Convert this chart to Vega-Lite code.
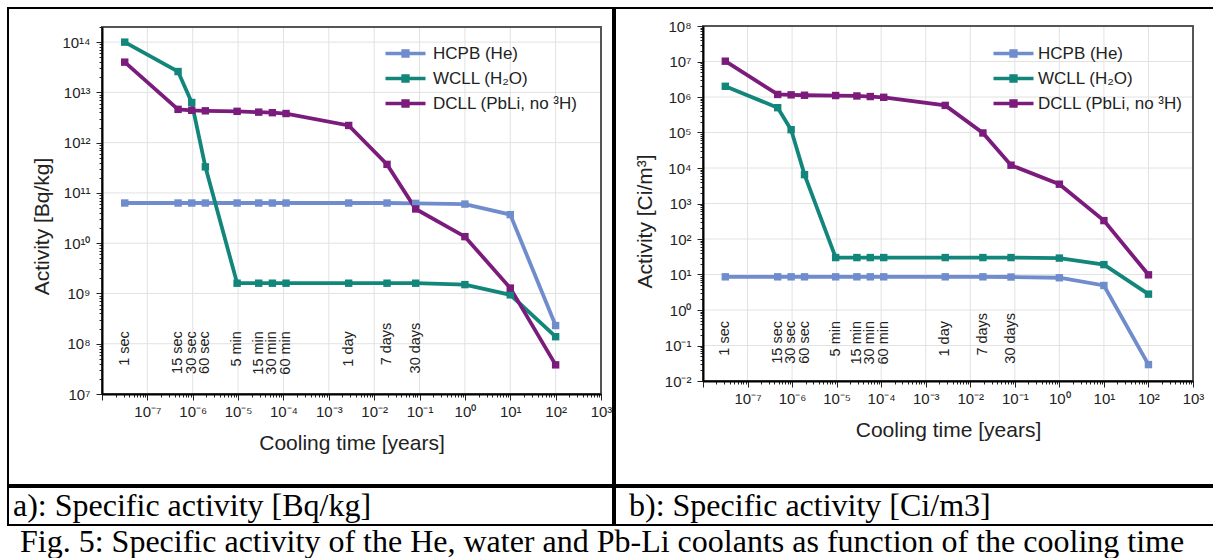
{
  "$schema": "https://vega.github.io/schema/vega-lite/v6.json",
  "background": "white",
  "padding": {"left": 7, "top": 7, "right": 0, "bottom": 0},
  "config": {
    "font": "Liberation Sans",
    "view": {"stroke": "black", "strokeWidth": 2},
    "concat": {"spacing": 0}
  },
  "title": {
    "text": "Fig. 5: Specific activity of the He, water and Pb-Li coolants as function of the cooling time",
    "orient": "bottom", "anchor": "start", "frame": "bounds",
    "font": "Liberation Serif", "fontSize": 32, "fontWeight": "normal", "color": "black",
    "offset": 1, "dx": 13
  },
  "datasets": {
    "a": [
      {"s": "HCPB (He)", "t": 3.17e-8, "v": 6.3e10},
      {"s": "HCPB (He)", "t": 4.75e-7, "v": 6.3e10},
      {"s": "HCPB (He)", "t": 9.51e-7, "v": 6.3e10},
      {"s": "HCPB (He)", "t": 1.9e-6, "v": 6.3e10},
      {"s": "HCPB (He)", "t": 9.51e-6, "v": 6.3e10},
      {"s": "HCPB (He)", "t": 2.85e-5, "v": 6.3e10},
      {"s": "HCPB (He)", "t": 5.7e-5, "v": 6.3e10},
      {"s": "HCPB (He)", "t": 1.14e-4, "v": 6.3e10},
      {"s": "HCPB (He)", "t": 2.74e-3, "v": 6.3e10},
      {"s": "HCPB (He)", "t": 1.92e-2, "v": 6.3e10},
      {"s": "HCPB (He)", "t": 8.22e-2, "v": 6.2e10},
      {"s": "HCPB (He)", "t": 1, "v": 6.0e10},
      {"s": "HCPB (He)", "t": 10, "v": 3.7e10},
      {"s": "HCPB (He)", "t": 100, "v": 2.3e8},
      {"s": "WCLL (H₂O)", "t": 3.17e-8, "v": 1.0e14},
      {"s": "WCLL (H₂O)", "t": 4.75e-7, "v": 2.6e13},
      {"s": "WCLL (H₂O)", "t": 9.51e-7, "v": 6.3e12},
      {"s": "WCLL (H₂O)", "t": 1.9e-6, "v": 3.3e11},
      {"s": "WCLL (H₂O)", "t": 9.51e-6, "v": 1.6e9},
      {"s": "WCLL (H₂O)", "t": 2.85e-5, "v": 1.6e9},
      {"s": "WCLL (H₂O)", "t": 5.7e-5, "v": 1.6e9},
      {"s": "WCLL (H₂O)", "t": 1.14e-4, "v": 1.6e9},
      {"s": "WCLL (H₂O)", "t": 2.74e-3, "v": 1.6e9},
      {"s": "WCLL (H₂O)", "t": 1.92e-2, "v": 1.6e9},
      {"s": "WCLL (H₂O)", "t": 8.22e-2, "v": 1.6e9},
      {"s": "WCLL (H₂O)", "t": 1, "v": 1.5e9},
      {"s": "WCLL (H₂O)", "t": 10, "v": 9.4e8},
      {"s": "WCLL (H₂O)", "t": 100, "v": 1.38e8},
      {"s": "DCLL (PbLi, no ³H)", "t": 3.17e-8, "v": 4.0e13},
      {"s": "DCLL (PbLi, no ³H)", "t": 4.75e-7, "v": 4.6e12},
      {"s": "DCLL (PbLi, no ³H)", "t": 9.51e-7, "v": 4.4e12},
      {"s": "DCLL (PbLi, no ³H)", "t": 1.9e-6, "v": 4.3e12},
      {"s": "DCLL (PbLi, no ³H)", "t": 9.51e-6, "v": 4.2e12},
      {"s": "DCLL (PbLi, no ³H)", "t": 2.85e-5, "v": 4.05e12},
      {"s": "DCLL (PbLi, no ³H)", "t": 5.7e-5, "v": 3.95e12},
      {"s": "DCLL (PbLi, no ³H)", "t": 1.14e-4, "v": 3.8e12},
      {"s": "DCLL (PbLi, no ³H)", "t": 2.74e-3, "v": 2.2e12},
      {"s": "DCLL (PbLi, no ³H)", "t": 1.92e-2, "v": 3.7e11},
      {"s": "DCLL (PbLi, no ³H)", "t": 8.22e-2, "v": 4.8e10},
      {"s": "DCLL (PbLi, no ³H)", "t": 1, "v": 1.35e10},
      {"s": "DCLL (PbLi, no ³H)", "t": 10, "v": 1.28e9},
      {"s": "DCLL (PbLi, no ³H)", "t": 100, "v": 3.8e7}
    ],
    "b": [
      {"s": "HCPB (He)", "t": 3.17e-8, "v": 8.6},
      {"s": "HCPB (He)", "t": 4.75e-7, "v": 8.6},
      {"s": "HCPB (He)", "t": 9.51e-7, "v": 8.6},
      {"s": "HCPB (He)", "t": 1.9e-6, "v": 8.6},
      {"s": "HCPB (He)", "t": 9.51e-6, "v": 8.6},
      {"s": "HCPB (He)", "t": 2.85e-5, "v": 8.6},
      {"s": "HCPB (He)", "t": 5.7e-5, "v": 8.6},
      {"s": "HCPB (He)", "t": 1.14e-4, "v": 8.6},
      {"s": "HCPB (He)", "t": 2.74e-3, "v": 8.6},
      {"s": "HCPB (He)", "t": 1.92e-2, "v": 8.6},
      {"s": "HCPB (He)", "t": 8.22e-2, "v": 8.5},
      {"s": "HCPB (He)", "t": 1, "v": 8.1},
      {"s": "HCPB (He)", "t": 10, "v": 4.9},
      {"s": "HCPB (He)", "t": 100, "v": 0.029},
      {"s": "WCLL (H₂O)", "t": 3.17e-8, "v": 2.0e6},
      {"s": "WCLL (H₂O)", "t": 4.75e-7, "v": 5.0e5},
      {"s": "WCLL (H₂O)", "t": 9.51e-7, "v": 1.2e5},
      {"s": "WCLL (H₂O)", "t": 1.9e-6, "v": 6.5e3},
      {"s": "WCLL (H₂O)", "t": 9.51e-6, "v": 30},
      {"s": "WCLL (H₂O)", "t": 2.85e-5, "v": 30},
      {"s": "WCLL (H₂O)", "t": 5.7e-5, "v": 30},
      {"s": "WCLL (H₂O)", "t": 1.14e-4, "v": 30},
      {"s": "WCLL (H₂O)", "t": 2.74e-3, "v": 30},
      {"s": "WCLL (H₂O)", "t": 1.92e-2, "v": 30},
      {"s": "WCLL (H₂O)", "t": 8.22e-2, "v": 30},
      {"s": "WCLL (H₂O)", "t": 1, "v": 29},
      {"s": "WCLL (H₂O)", "t": 10, "v": 19},
      {"s": "WCLL (H₂O)", "t": 100, "v": 2.8},
      {"s": "DCLL (PbLi, no ³H)", "t": 3.17e-8, "v": 1.02e7},
      {"s": "DCLL (PbLi, no ³H)", "t": 4.75e-7, "v": 1.18e6},
      {"s": "DCLL (PbLi, no ³H)", "t": 9.51e-7, "v": 1.15e6},
      {"s": "DCLL (PbLi, no ³H)", "t": 1.9e-6, "v": 1.12e6},
      {"s": "DCLL (PbLi, no ³H)", "t": 9.51e-6, "v": 1.1e6},
      {"s": "DCLL (PbLi, no ³H)", "t": 2.85e-5, "v": 1.07e6},
      {"s": "DCLL (PbLi, no ³H)", "t": 5.7e-5, "v": 1.03e6},
      {"s": "DCLL (PbLi, no ³H)", "t": 1.14e-4, "v": 9.8e5},
      {"s": "DCLL (PbLi, no ³H)", "t": 2.74e-3, "v": 5.8e5},
      {"s": "DCLL (PbLi, no ³H)", "t": 1.92e-2, "v": 9.7e4},
      {"s": "DCLL (PbLi, no ³H)", "t": 8.22e-2, "v": 1.2e4},
      {"s": "DCLL (PbLi, no ³H)", "t": 1, "v": 3.5e3},
      {"s": "DCLL (PbLi, no ³H)", "t": 10, "v": 3.3e2},
      {"s": "DCLL (PbLi, no ³H)", "t": 100, "v": 9.8}
    ],
    "tl": [
      {"t": 3.17e-8, "label": "1 sec"},
      {"t": 4.75e-7, "label": "15 sec"},
      {"t": 9.51e-7, "label": "30 sec"},
      {"t": 1.9e-6, "label": "60 sec"},
      {"t": 9.51e-6, "label": "5 min"},
      {"t": 2.85e-5, "label": "15 min"},
      {"t": 5.7e-5, "label": "30 min"},
      {"t": 1.14e-4, "label": "60 min"},
      {"t": 2.74e-3, "label": "1 day"},
      {"t": 1.92e-2, "label": "7 days"},
      {"t": 8.22e-2, "label": "30 days"}
    ],
    "gx": [
      {"g": 1e-7}, {"g": 1e-6}, {"g": 1e-5}, {"g": 1e-4}, {"g": 1e-3},
      {"g": 1e-2}, {"g": 1e-1}, {"g": 1}, {"g": 10}, {"g": 100}
    ],
    "gya": [
      {"g": 1e8}, {"g": 1e9}, {"g": 1e10}, {"g": 1e11}, {"g": 1e12}, {"g": 1e13}, {"g": 1e14}
    ],
    "gyb": [
      {"g": 0.1}, {"g": 1}, {"g": 10}, {"g": 100}, {"g": 1000}, {"g": 1e4}, {"g": 1e5}, {"g": 1e6}, {"g": 1e7}
    ],
    "capa": [{"c": "a): Specific activity [Bq/kg]"}],
    "capb": [{"c": "b): Specific activity [Ci/m3]"}],
    "one": [{"k": 1}]
  },
  "vconcat": [
    {
      "hconcat": [
        {
          "width": 605,
          "height": 477,
          "layer": [
            {
              "data": {"name": "gx"},
              "mark": {"type": "rule", "color": "#e2e2e2", "strokeWidth": 1},
              "encoding": {
                "x": {"field": "g", "type": "quantitative", "scale": {"type": "log", "domain": [1e-8, 1000], "range": [94, 593], "nice": false}},
                "y": {"datum": 1e7, "type": "quantitative", "scale": {"type": "log", "domain": [1e7, 2e14], "range": [386, 19], "nice": false}},
                "y2": {"datum": 2e14}
              }
            },
            {
              "data": {"name": "gya"},
              "mark": {"type": "rule", "color": "#e2e2e2", "strokeWidth": 1},
              "encoding": {
                "y": {"field": "g", "type": "quantitative", "scale": {"type": "log", "domain": [1e7, 2e14], "range": [386, 19], "nice": false}},
                "x": {"datum": 1e-8, "type": "quantitative", "scale": {"type": "log", "domain": [1e-8, 1000], "range": [94, 593], "nice": false}},
                "x2": {"datum": 1000}
              }
            },
            {
              "data": {"name": "one"},
              "mark": {"type": "rect", "fill": "white", "fillOpacity": 0, "stroke": "#555555", "strokeWidth": 2},
              "encoding": {
                "x": {"datum": 1e-8, "type": "quantitative", "scale": {"type": "log", "domain": [1e-8, 1000], "range": [94, 593], "nice": false}},
                "x2": {"datum": 1000},
                "y": {"datum": 1e7, "type": "quantitative", "scale": {"type": "log", "domain": [1e7, 2e14], "range": [386, 19], "nice": false}},
                "y2": {"datum": 2e14}
              }
            },
            {
              "data": {"name": "a"},
              "mark": {"type": "line", "strokeWidth": 3.8},
              "encoding": {
                "x": {
                  "field": "t", "type": "quantitative",
                  "scale": {"type": "log", "domain": [1e-8, 1000], "range": [94, 593], "nice": false},
                  "axis": {
                    "orient": "bottom", "offset": -91, "zindex": 2, "grid": false,
                    "values": [1e-8,2e-8,3e-8,4e-8,5e-8,6e-8,7e-8,8e-8,9e-8,1e-7,2e-7,3e-7,4e-7,5e-7,6e-7,7e-7,8e-7,9e-7,1e-6,2e-6,3e-6,4e-6,5e-6,6e-6,7e-6,8e-6,9e-6,1e-5,2e-5,3e-5,4e-5,5e-5,6e-5,7e-5,8e-5,9e-5,1e-4,2e-4,3e-4,4e-4,5e-4,6e-4,7e-4,8e-4,9e-4,1e-3,2e-3,3e-3,4e-3,5e-3,6e-3,7e-3,8e-3,9e-3,1e-2,2e-2,3e-2,4e-2,5e-2,6e-2,7e-2,8e-2,9e-2,0.1,0.2,0.3,0.4,0.5,0.6,0.7,0.8,0.9,1,2,3,4,5,6,7,8,9,10,20,30,40,50,60,70,80,90,100,200,300,400,500,600,700,800,900,1000],
                    "labelExpr": "(abs(log(datum.value)/LN10 - round(log(datum.value)/LN10)) > 0.001 || datum.value < 1.5e-8) ? '' : '10' + (datum.value < 1 ? '⁻' : '') + (abs(round(log(datum.value)/LN10)) >= 10 ? '¹' : '') + substring('⁰¹²³⁴⁵⁶⁷⁸⁹', abs(round(log(datum.value)/LN10)) % 10, abs(round(log(datum.value)/LN10)) % 10 + 1)",
                    "tickSize": {"condition": {"test": "abs(log(datum.value)/LN10 - round(log(datum.value)/LN10)) < 0.001", "value": 6}, "value": 3},
                    "tickColor": "#222222", "tickWidth": 1,
                    "domainColor": "black", "domainWidth": 2,
                    "labelFontSize": 15, "labelColor": "#222222", "labelPadding": 4,
                    "labelFlush": false, "labelOverlap": false, "labelBound": false,
                    "title": "Cooling time [years]", "titleFontSize": 21, "titleFontWeight": "normal", "titleColor": "#222222", "titlePadding": 13
                  }
                },
                "y": {
                  "field": "v", "type": "quantitative",
                  "scale": {"type": "log", "domain": [1e7, 2e14], "range": [386, 19], "nice": false},
                  "axis": {
                    "orient": "left", "offset": -94, "zindex": 2, "grid": false,
                    "values": [1e7,2e7,3e7,4e7,5e7,6e7,7e7,8e7,9e7,1e8,2e8,3e8,4e8,5e8,6e8,7e8,8e8,9e8,1e9,2e9,3e9,4e9,5e9,6e9,7e9,8e9,9e9,1e10,2e10,3e10,4e10,5e10,6e10,7e10,8e10,9e10,1e11,2e11,3e11,4e11,5e11,6e11,7e11,8e11,9e11,1e12,2e12,3e12,4e12,5e12,6e12,7e12,8e12,9e12,1e13,2e13,3e13,4e13,5e13,6e13,7e13,8e13,9e13,1e14,2e14],
                    "labelExpr": "abs(log(datum.value)/LN10 - round(log(datum.value)/LN10)) > 0.001 ? '' : '10' + (datum.value < 1 ? '⁻' : '') + (abs(round(log(datum.value)/LN10)) >= 10 ? '¹' : '') + substring('⁰¹²³⁴⁵⁶⁷⁸⁹', abs(round(log(datum.value)/LN10)) % 10, abs(round(log(datum.value)/LN10)) % 10 + 1)",
                    "tickSize": {"condition": {"test": "abs(log(datum.value)/LN10 - round(log(datum.value)/LN10)) < 0.001", "value": 6}, "value": 3},
                    "tickColor": "#222222", "tickWidth": 1,
                    "domainColor": "black", "domainWidth": 2,
                    "labelFontSize": 15, "labelColor": "#222222", "labelPadding": 6,
                    "labelFlush": false, "labelOverlap": false, "labelBound": false,
                    "title": "Activity [Bq/kg]", "titleFontSize": 21, "titleFontWeight": "normal", "titleColor": "#222222", "titlePadding": 9, "titleY": 218
                  }
                },
                "color": {
                  "field": "s", "type": "nominal",
                  "scale": {"domain": ["HCPB (He)", "WCLL (H₂O)", "DCLL (PbLi, no ³H)"], "range": ["#6f8dcc", "#12867b", "#7b1c7c"]},
                  "legend": {
                    "orient": "none", "legendX": 389, "legendY": 37, "title": null, "padding": 0,
                    "labelFontSize": 17, "labelColor": "#222222", "labelOffset": 19,
                    "symbolType": "M-5,0H5M-0.6,-0.6H0.6V0.6H-0.6Z", "symbolSize": 64, "symbolStrokeWidth": 3.5,
                    "rowPadding": 6
                  }
                }
              }
            },
            {
              "data": {"name": "a"},
              "mark": {"type": "point", "shape": "square", "filled": true, "size": 55, "opacity": 1},
              "encoding": {
                "x": {"field": "t", "type": "quantitative", "scale": {"type": "log", "domain": [1e-8, 1000], "range": [94, 593], "nice": false}},
                "y": {"field": "v", "type": "quantitative", "scale": {"type": "log", "domain": [1e7, 2e14], "range": [386, 19], "nice": false}},
                "color": {"field": "s", "type": "nominal", "scale": {"domain": ["HCPB (He)", "WCLL (H₂O)", "DCLL (PbLi, no ³H)"], "range": ["#6f8dcc", "#12867b", "#7b1c7c"]}, "legend": null}
              }
            },
            {
              "data": {"name": "tl"},
              "transform": [{"filter": "indexof(datum.label, 'days') < 0"}],
              "mark": {"type": "text", "angle": 270, "align": "right", "baseline": "middle", "fontSize": 14.5, "color": "#222222"},
              "encoding": {
                "x": {"field": "t", "type": "quantitative", "scale": {"type": "log", "domain": [1e-8, 1000], "range": [94, 593], "nice": false}},
                "y": {"datum": 1.78e8, "type": "quantitative", "scale": {"type": "log", "domain": [1e7, 2e14], "range": [386, 19], "nice": false}},
                "text": {"field": "label"}
              }
            },
            {
              "data": {"name": "tl"},
              "transform": [{"filter": "indexof(datum.label, 'days') >= 0"}],
              "mark": {"type": "text", "angle": 270, "align": "right", "baseline": "middle", "fontSize": 14.5, "color": "#222222"},
              "encoding": {
                "x": {"field": "t", "type": "quantitative", "scale": {"type": "log", "domain": [1e-8, 1000], "range": [94, 593], "nice": false}},
                "y": {"datum": 2.63e8, "type": "quantitative", "scale": {"type": "log", "domain": [1e7, 2e14], "range": [386, 19], "nice": false}},
                "text": {"field": "label"}
              }
            }
          ]
        },
        {
          "width": 602,
          "height": 477,
          "layer": [
            {
              "data": {"name": "gx"},
              "mark": {"type": "rule", "color": "#e2e2e2", "strokeWidth": 1},
              "encoding": {
                "x": {"field": "g", "type": "quantitative", "scale": {"type": "log", "domain": [1e-8, 1000], "range": [88, 578], "nice": false}},
                "y": {"datum": 0.01, "type": "quantitative", "scale": {"type": "log", "domain": [0.01, 1e8], "range": [373, 18], "nice": false}},
                "y2": {"datum": 1e8}
              }
            },
            {
              "data": {"name": "gyb"},
              "mark": {"type": "rule", "color": "#e2e2e2", "strokeWidth": 1},
              "encoding": {
                "y": {"field": "g", "type": "quantitative", "scale": {"type": "log", "domain": [0.01, 1e8], "range": [373, 18], "nice": false}},
                "x": {"datum": 1e-8, "type": "quantitative", "scale": {"type": "log", "domain": [1e-8, 1000], "range": [88, 578], "nice": false}},
                "x2": {"datum": 1000}
              }
            },
            {
              "data": {"name": "one"},
              "mark": {"type": "rect", "fill": "white", "fillOpacity": 0, "stroke": "#555555", "strokeWidth": 2},
              "encoding": {
                "x": {"datum": 1e-8, "type": "quantitative", "scale": {"type": "log", "domain": [1e-8, 1000], "range": [88, 578], "nice": false}},
                "x2": {"datum": 1000},
                "y": {"datum": 0.01, "type": "quantitative", "scale": {"type": "log", "domain": [0.01, 1e8], "range": [373, 18], "nice": false}},
                "y2": {"datum": 1e8}
              }
            },
            {
              "data": {"name": "b"},
              "mark": {"type": "line", "strokeWidth": 3.8},
              "encoding": {
                "x": {
                  "field": "t", "type": "quantitative",
                  "scale": {"type": "log", "domain": [1e-8, 1000], "range": [88, 578], "nice": false},
                  "axis": {
                    "orient": "bottom", "offset": -104, "zindex": 2, "grid": false,
                    "values": [1e-8,2e-8,3e-8,4e-8,5e-8,6e-8,7e-8,8e-8,9e-8,1e-7,2e-7,3e-7,4e-7,5e-7,6e-7,7e-7,8e-7,9e-7,1e-6,2e-6,3e-6,4e-6,5e-6,6e-6,7e-6,8e-6,9e-6,1e-5,2e-5,3e-5,4e-5,5e-5,6e-5,7e-5,8e-5,9e-5,1e-4,2e-4,3e-4,4e-4,5e-4,6e-4,7e-4,8e-4,9e-4,1e-3,2e-3,3e-3,4e-3,5e-3,6e-3,7e-3,8e-3,9e-3,1e-2,2e-2,3e-2,4e-2,5e-2,6e-2,7e-2,8e-2,9e-2,0.1,0.2,0.3,0.4,0.5,0.6,0.7,0.8,0.9,1,2,3,4,5,6,7,8,9,10,20,30,40,50,60,70,80,90,100,200,300,400,500,600,700,800,900,1000],
                    "labelExpr": "(abs(log(datum.value)/LN10 - round(log(datum.value)/LN10)) > 0.001 || datum.value < 1.5e-8) ? '' : '10' + (datum.value < 1 ? '⁻' : '') + (abs(round(log(datum.value)/LN10)) >= 10 ? '¹' : '') + substring('⁰¹²³⁴⁵⁶⁷⁸⁹', abs(round(log(datum.value)/LN10)) % 10, abs(round(log(datum.value)/LN10)) % 10 + 1)",
                    "tickSize": {"condition": {"test": "abs(log(datum.value)/LN10 - round(log(datum.value)/LN10)) < 0.001", "value": 6}, "value": 3},
                    "tickColor": "#222222", "tickWidth": 1,
                    "domainColor": "black", "domainWidth": 2,
                    "labelFontSize": 15, "labelColor": "#222222", "labelPadding": 4,
                    "labelFlush": false, "labelOverlap": false, "labelBound": false,
                    "title": "Cooling time [years]", "titleFontSize": 21, "titleFontWeight": "normal", "titleColor": "#222222", "titlePadding": 13
                  }
                },
                "y": {
                  "field": "v", "type": "quantitative",
                  "scale": {"type": "log", "domain": [0.01, 1e8], "range": [373, 18], "nice": false},
                  "axis": {
                    "orient": "left", "offset": -88, "zindex": 2, "grid": false,
                    "values": [0.01,0.02,0.03,0.04,0.05,0.06,0.07,0.08,0.09,0.1,0.2,0.3,0.4,0.5,0.6,0.7,0.8,0.9,1,2,3,4,5,6,7,8,9,10,20,30,40,50,60,70,80,90,100,200,300,400,500,600,700,800,900,1000,2000,3000,4000,5000,6000,7000,8000,9000,1e4,2e4,3e4,4e4,5e4,6e4,7e4,8e4,9e4,1e5,2e5,3e5,4e5,5e5,6e5,7e5,8e5,9e5,1e6,2e6,3e6,4e6,5e6,6e6,7e6,8e6,9e6,1e7,2e7,3e7,4e7,5e7,6e7,7e7,8e7,9e7,1e8],
                    "labelExpr": "abs(log(datum.value)/LN10 - round(log(datum.value)/LN10)) > 0.001 ? '' : '10' + (datum.value < 0.5 ? '⁻' : '') + (abs(round(log(datum.value)/LN10)) >= 10 ? '¹' : '') + substring('⁰¹²³⁴⁵⁶⁷⁸⁹', abs(round(log(datum.value)/LN10)) % 10, abs(round(log(datum.value)/LN10)) % 10 + 1)",
                    "tickSize": {"condition": {"test": "abs(log(datum.value)/LN10 - round(log(datum.value)/LN10)) < 0.001", "value": 6}, "value": 3},
                    "tickColor": "#222222", "tickWidth": 1,
                    "domainColor": "black", "domainWidth": 2,
                    "labelFontSize": 15, "labelColor": "#222222", "labelPadding": 6,
                    "labelFlush": false, "labelOverlap": false, "labelBound": false,
                    "title": "Activity [Ci/m³]", "titleFontSize": 21, "titleFontWeight": "normal", "titleColor": "#222222", "titlePadding": 9, "titleY": 213
                  }
                },
                "color": {
                  "field": "s", "type": "nominal",
                  "scale": {"domain": ["HCPB (He)", "WCLL (H₂O)", "DCLL (PbLi, no ³H)"], "range": ["#6f8dcc", "#12867b", "#7b1c7c"]},
                  "legend": {
                    "orient": "none", "legendX": 390, "legendY": 37, "title": null, "padding": 0,
                    "labelFontSize": 17, "labelColor": "#222222", "labelOffset": 16,
                    "symbolType": "M-5,0H5M-0.6,-0.6H0.6V0.6H-0.6Z", "symbolSize": 64, "symbolStrokeWidth": 3.5,
                    "rowPadding": 6
                  }
                }
              }
            },
            {
              "data": {"name": "b"},
              "mark": {"type": "point", "shape": "square", "filled": true, "size": 55, "opacity": 1},
              "encoding": {
                "x": {"field": "t", "type": "quantitative", "scale": {"type": "log", "domain": [1e-8, 1000], "range": [88, 578], "nice": false}},
                "y": {"field": "v", "type": "quantitative", "scale": {"type": "log", "domain": [0.01, 1e8], "range": [373, 18], "nice": false}},
                "color": {"field": "s", "type": "nominal", "scale": {"domain": ["HCPB (He)", "WCLL (H₂O)", "DCLL (PbLi, no ³H)"], "range": ["#6f8dcc", "#12867b", "#7b1c7c"]}, "legend": null}
              }
            },
            {
              "data": {"name": "tl"},
              "transform": [{"filter": "indexof(datum.label, 'days') < 0"}],
              "mark": {"type": "text", "angle": 270, "align": "right", "baseline": "middle", "fontSize": 14.5, "color": "#222222"},
              "encoding": {
                "x": {"field": "t", "type": "quantitative", "scale": {"type": "log", "domain": [1e-8, 1000], "range": [88, 578], "nice": false}},
                "y": {"datum": 0.49, "type": "quantitative", "scale": {"type": "log", "domain": [0.01, 1e8], "range": [373, 18], "nice": false}},
                "text": {"field": "label"}
              }
            },
            {
              "data": {"name": "tl"},
              "transform": [{"filter": "indexof(datum.label, 'days') >= 0"}],
              "mark": {"type": "text", "angle": 270, "align": "right", "baseline": "middle", "fontSize": 14.5, "color": "#222222"},
              "encoding": {
                "x": {"field": "t", "type": "quantitative", "scale": {"type": "log", "domain": [1e-8, 1000], "range": [88, 578], "nice": false}},
                "y": {"datum": 0.83, "type": "quantitative", "scale": {"type": "log", "domain": [0.01, 1e8], "range": [373, 18], "nice": false}},
                "text": {"field": "label"}
              }
            }
          ]
        }
      ],
      "resolve": {"scale": {"color": "independent", "x": "independent", "y": "independent"}, "legend": {"color": "independent"}}
    },
    {
      "hconcat": [
        {
          "width": 605,
          "height": 38,
          "data": {"name": "capa"},
          "mark": {"type": "text", "align": "left", "baseline": "middle", "font": "Liberation Serif", "fontSize": 32, "color": "black", "dx": 5},
          "encoding": {
            "x": {"datum": 0, "type": "quantitative", "scale": {"domain": [0, 1]}, "axis": null},
            "y": {"datum": 0.5, "type": "quantitative", "scale": {"domain": [0, 1]}, "axis": null},
            "text": {"field": "c"}
          }
        },
        {
          "width": 602,
          "height": 38,
          "data": {"name": "capb"},
          "mark": {"type": "text", "align": "left", "baseline": "middle", "font": "Liberation Serif", "fontSize": 32, "color": "black", "dx": 14},
          "encoding": {
            "x": {"datum": 0, "type": "quantitative", "scale": {"domain": [0, 1]}, "axis": null},
            "y": {"datum": 0.5, "type": "quantitative", "scale": {"domain": [0, 1]}, "axis": null},
            "text": {"field": "c"}
          }
        }
      ],
      "resolve": {"scale": {"x": "independent", "y": "independent"}}
    }
  ]
}
